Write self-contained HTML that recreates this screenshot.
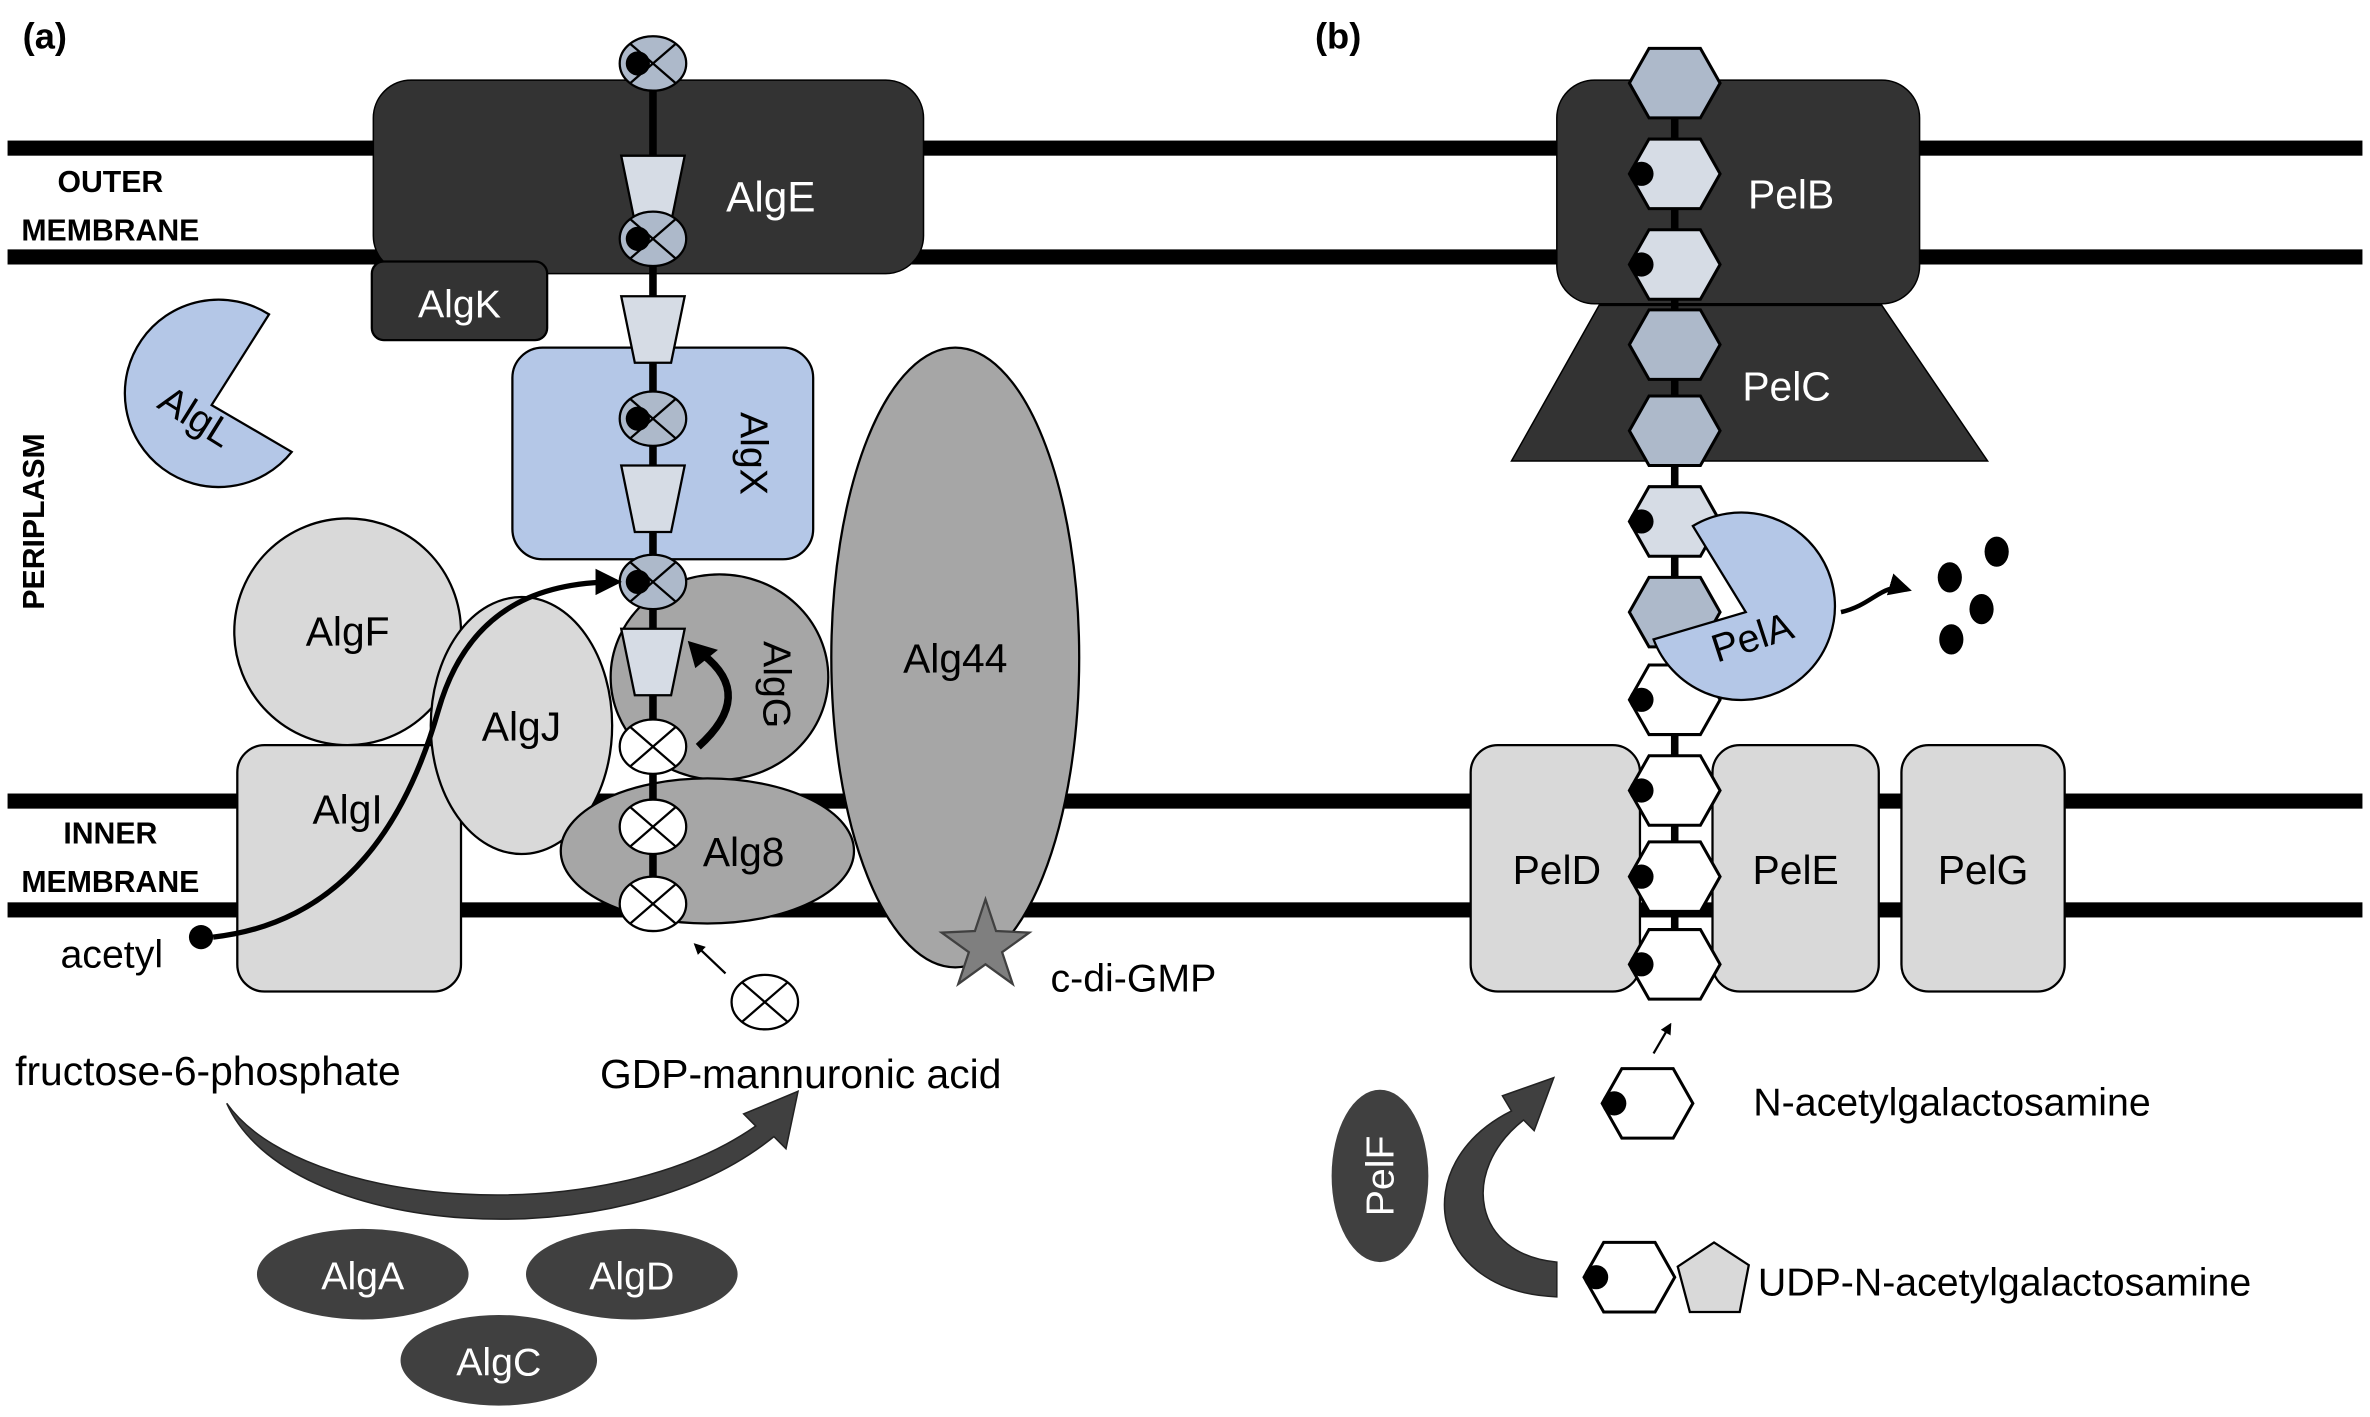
<!DOCTYPE html>
<html><head><meta charset="utf-8"><style>html,body{margin:0;padding:0;background:#fff}svg{display:block}text{font-family:"Liberation Sans",sans-serif}</style></head><body>
<svg width="2370" height="1417" viewBox="0 0 1568 937.5" preserveAspectRatio="none" xmlns="http://www.w3.org/2000/svg">
<defs>
<marker id="ah" viewBox="0 0 10 10" refX="8" refY="5" markerWidth="5" markerHeight="5" orient="auto"><path d="M0,0L10,5L0,10z" fill="#000"/></marker>
<g id="eb"><ellipse rx="22" ry="18" fill="#adb9ca" stroke="#000" stroke-width="1.5"/><path d="M-15,-13L15,13M-15,13L15,-13" stroke="#000" stroke-width="1.5"/><circle cx="-10" cy="0" r="8" fill="#000"/></g>
<g id="ew"><ellipse rx="22" ry="18" fill="#fff" stroke="#000" stroke-width="1.5"/><path d="M-15,-13L15,13M-15,13L15,-13" stroke="#000" stroke-width="1.5"/></g>
<path id="tr" d="M-21,-22L21,-22L12,22L-12,22z" fill="#d6dce5" stroke="#000" stroke-width="1.5"/>
<path id="hx" d="M-30,0L-17,-23L17,-23L30,0L17,23L-17,23z" stroke="#000" stroke-width="2"/>
</defs>
<g fill="#000"><rect x="5" y="93" width="1558" height="10"/><rect x="5" y="165" width="1558" height="10"/><rect x="5" y="525" width="1558" height="10"/><rect x="5" y="597" width="1558" height="10"/></g>
<text x="15" y="32" font-size="24" font-weight="bold">(a)</text>
<text x="870" y="32" font-size="24" font-weight="bold">(b)</text>
<g font-size="20" font-weight="bold" text-anchor="middle"><text x="73" y="127">OUTER</text><text x="73" y="159">MEMBRANE</text><text x="73" y="558">INNER</text><text x="73" y="590">MEMBRANE</text>
<text transform="translate(29,345) rotate(-90)">PERIPLASM</text></g>
<rect x="247" y="53" width="364" height="128" rx="25" fill="#333" stroke="#000"/>
<rect x="246" y="173" width="116" height="52" rx="8" fill="#333" stroke="#000" stroke-width="1.5"/>
<text x="304" y="210" font-size="26" fill="#fff" text-anchor="middle">AlgK</text>
<text x="510" y="140" font-size="28" fill="#fff" text-anchor="middle">AlgE</text>
<path d="M140,268L178,208A62,62 0 1 0 193,299Z" fill="#b4c7e7" stroke="#000" stroke-width="1.5"/>
<text transform="translate(125,283) rotate(32)" font-size="26" text-anchor="middle">AlgL</text>
<rect x="339" y="230" width="199" height="140" rx="20" fill="#b4c7e7" stroke="#000" stroke-width="1.5"/>
<text transform="translate(490,300) rotate(90)" font-size="26" text-anchor="middle">AlgX</text>
<ellipse cx="632" cy="435" rx="82" ry="205" fill="#a6a6a6" stroke="#000" stroke-width="1.5"/>
<text x="632" y="445" font-size="27" text-anchor="middle">Alg44</text>
<polygon points="652,595 659,616 681,617 663,630 670,651 652,638 634,651 641,630 623,617 645,616" fill="#7f7f7f" stroke="#404040" stroke-width="1.5"/>
<text x="695" y="656" font-size="26">c-di-GMP</text>
<circle cx="230" cy="418" r="75" fill="#d9d9d9" stroke="#000" stroke-width="1.5"/>
<text x="230" y="427" font-size="27" text-anchor="middle">AlgF</text>
<rect x="157" y="493" width="148" height="163" rx="18" fill="#d9d9d9" stroke="#000" stroke-width="1.5"/>
<text x="230" y="545" font-size="27" text-anchor="middle">AlgI</text>
<ellipse cx="345" cy="480" rx="60" ry="85" fill="#d9d9d9" stroke="#000" stroke-width="1.5"/>
<text x="345" y="490" font-size="27" text-anchor="middle">AlgJ</text>
<ellipse cx="476" cy="448" rx="72" ry="68" fill="#a6a6a6" stroke="#000" stroke-width="1.5"/>
<text transform="translate(505,453) rotate(90)" font-size="26" text-anchor="middle">AlgG</text>
<ellipse cx="468" cy="563" rx="97" ry="48" fill="#a6a6a6" stroke="#000" stroke-width="1.5"/>
<text x="492" y="573" font-size="27" text-anchor="middle">Alg8</text>
<path d="M462,494Q500,460 465,433" fill="none" stroke="#000" stroke-width="5"/>
<path d="M455,424L475,430L460,442z" fill="#000"/>
<line x1="432" y1="55" x2="432" y2="615" stroke="#000" stroke-width="5"/>
<use href="#eb" x="432" y="42"/><use href="#tr" x="432" y="125"/><use href="#eb" x="432" y="158"/><use href="#tr" x="432" y="218"/>
<use href="#eb" x="432" y="277"/><use href="#tr" x="432" y="330"/><use href="#eb" x="432" y="385"/><use href="#tr" x="432" y="438"/>
<use href="#ew" x="432" y="494"/><use href="#ew" x="432" y="547"/><use href="#ew" x="432" y="598"/><use href="#ew" x="506" y="663"/>
<line x1="480" y1="644" x2="460" y2="625" stroke="#000" stroke-width="1.5" marker-end="url(#ah)"/>
<circle cx="133" cy="620" r="8" fill="#000"/>
<text x="40" y="640" font-size="26">acetyl</text>
<path d="M141,620C230,610 270,540 290,470C310,400 360,385 408,385" fill="none" stroke="#000" stroke-width="3.5" marker-end="url(#ah)"/>
<text x="10" y="718" font-size="27">fructose-6-phosphate</text>
<text x="397" y="720" font-size="27">GDP-mannuronic acid</text>
<path d="M150,730C200,800 400,815 500,745L492,737L528,722L520,760L512,752C410,835 190,820 150,730z" fill="#404040" stroke="#222"/>
<ellipse cx="240" cy="843" rx="70" ry="30" fill="#404040"/><text x="240" y="853" font-size="26" fill="#fff" text-anchor="middle">AlgA</text>
<ellipse cx="418" cy="843" rx="70" ry="30" fill="#404040"/><text x="418" y="853" font-size="26" fill="#fff" text-anchor="middle">AlgD</text>
<ellipse cx="330" cy="900" rx="65" ry="30" fill="#404040"/><text x="330" y="910" font-size="26" fill="#fff" text-anchor="middle">AlgC</text>
<rect x="1030" y="53" width="240" height="148" rx="25" fill="#333" stroke="#000"/>
<polygon points="1058,202 1245,202 1315,305 1000,305" fill="#333" stroke="#000"/>
<text x="1185" y="138" font-size="27" fill="#fff" text-anchor="middle">PelB</text>
<text x="1182" y="265" font-size="27" fill="#fff" text-anchor="middle">PelC</text>
<rect x="973" y="493" width="112" height="163" rx="18" fill="#d9d9d9" stroke="#000" stroke-width="1.5"/>
<rect x="1133" y="493" width="110" height="163" rx="18" fill="#d9d9d9" stroke="#000" stroke-width="1.5"/>
<rect x="1258" y="493" width="108" height="163" rx="18" fill="#d9d9d9" stroke="#000" stroke-width="1.5"/>
<text x="1030" y="585" font-size="27" text-anchor="middle">PelD</text>
<text x="1188" y="585" font-size="27" text-anchor="middle">PelE</text>
<text x="1312" y="585" font-size="27" text-anchor="middle">PelG</text>
<line x1="1108" y1="50" x2="1108" y2="640" stroke="#000" stroke-width="5"/>
<g fill="#adb9ca"><use href="#hx" x="1108" y="55"/><use href="#hx" x="1108" y="228"/><use href="#hx" x="1108" y="285"/><use href="#hx" x="1108" y="405"/></g>
<g fill="#d6dce5"><use href="#hx" x="1108" y="115"/><use href="#hx" x="1108" y="175"/><use href="#hx" x="1108" y="345"/></g>
<g fill="#fff"><use href="#hx" x="1108" y="463"/><use href="#hx" x="1108" y="523"/><use href="#hx" x="1108" y="580"/><use href="#hx" x="1108" y="638"/></g>
<g fill="#000"><circle cx="1086" cy="115" r="8"/><circle cx="1086" cy="175" r="8"/><circle cx="1086" cy="345" r="8"/><circle cx="1086" cy="463" r="8"/><circle cx="1086" cy="523" r="8"/><circle cx="1086" cy="580" r="8"/><circle cx="1086" cy="638" r="8"/></g>
<path d="M1155,405L1120,348A62,62 0 1 1 1094,423Z" fill="#b4c7e7" stroke="#000" stroke-width="1.5"/>
<text transform="translate(1162,430) rotate(-18)" font-size="26" text-anchor="middle">PelA</text>
<path d="M1218,405C1240,400 1245,385 1262,390" fill="none" stroke="#000" stroke-width="3" marker-end="url(#ah)"/>
<g fill="#000"><ellipse cx="1290" cy="382" rx="8" ry="10"/><ellipse cx="1321" cy="365" rx="8" ry="10"/><ellipse cx="1311" cy="403" rx="8" ry="10"/><ellipse cx="1291" cy="423" rx="8" ry="10"/></g>
<line x1="1094" y1="697" x2="1105" y2="678" stroke="#000" stroke-width="1.5" marker-end="url(#ah)"/>
<use href="#hx" x="1090" y="730" fill="#fff"/><circle cx="1068" cy="730" r="8" fill="#000"/>
<text x="1160" y="738" font-size="26">N-acetylgalactosamine</text>
<use href="#hx" x="1078" y="845" fill="#fff"/><circle cx="1056" cy="845" r="8" fill="#000"/>
<polygon points="1134,822 1157,837 1151,868 1118,868 1110,838" fill="#d9d9d9" stroke="#000" stroke-width="1.5"/>
<text x="1163" y="857" font-size="26">UDP-N-acetylgalactosamine</text>
<ellipse cx="913" cy="778" rx="32" ry="57" fill="#404040"/>
<text transform="translate(922,778) rotate(-90)" font-size="26" fill="#fff" text-anchor="middle">PelF</text>
<path d="M1030,858C945,855 930,770 1000,735L994,725L1028,713L1015,748L1008,741C965,775 975,830 1030,835z" fill="#404040" stroke="#222"/>
</svg>
</body></html>
